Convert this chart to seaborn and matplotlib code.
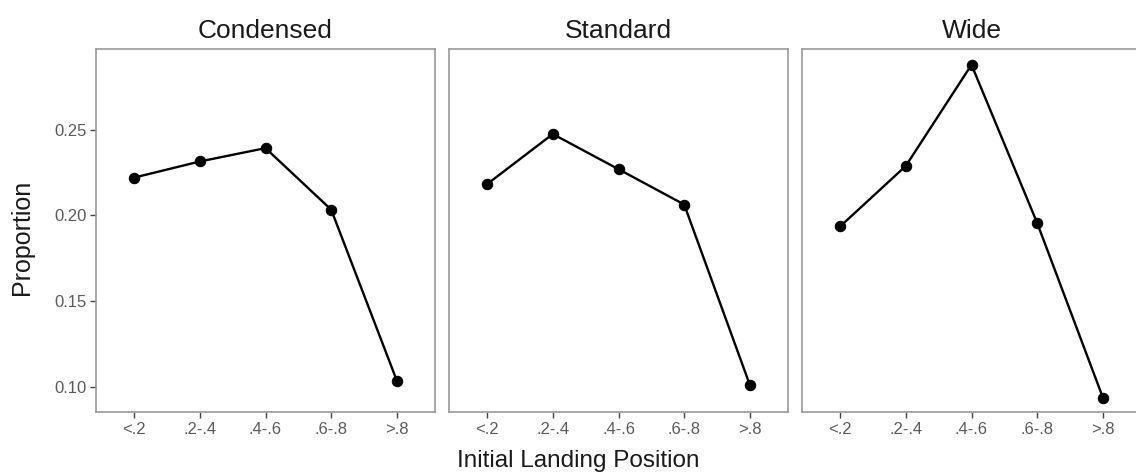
import matplotlib
matplotlib.use("Agg")
import matplotlib.pyplot as plt
import seaborn as sns
import pandas as pd
import numpy as np

panels = ["Condensed", "Standard", "Wide"]
categories = ["<.2", ".2-.4", ".4-.6", ".6-.8", ">.8"]
condensed = [0.222, 0.2314, 0.2392, 0.2033, 0.1035]
standard = [0.2182, 0.2474, 0.2269, 0.2063, 0.1010]
wide = [0.1935, 0.2288, 0.2878, 0.1955, 0.0937]
series = [condensed, standard, wide]
yticks = [0.10, 0.15, 0.20, 0.25]

sns.set_theme(style="white")
plt.rcParams["font.family"] = ["Liberation Sans", "DejaVu Sans"]

fig = plt.figure(figsize=(11.36, 4.72), dpi=100)
W, H = 1136, 472
lefts = [96, 449, 802]
pw, top, bottom = 339, 49, 412

for i, (name, vals) in enumerate(zip(panels, series)):
    ax = fig.add_axes([lefts[i] / W, (H - bottom) / H, pw / W, (bottom - top) / H])
    df = pd.DataFrame({"pos": np.arange(len(categories)), "prop": vals})
    sns.lineplot(data=df, x="pos", y="prop", ax=ax, color="black", lw=1.7,
                 marker="o", markersize=7.5, markeredgecolor="black")
    ax.set_xlim(-0.58, len(categories) - 1 + 0.58)
    ax.set_ylim(0.0853, 0.297)
    ax.set_xticks(np.arange(len(categories)))
    ax.set_xticklabels(categories)
    ax.set_yticks(yticks)
    ax.set_yticklabels([f"{t:.2f}" for t in yticks])
    if i > 0:
        ax.tick_params(axis="y", left=False, labelleft=False)
    for s in ax.spines.values():
        s.set_color("#999999")
        s.set_linewidth(1.2)
    ax.tick_params(axis="both", which="major", length=4, width=1, color="#444444",
                   labelcolor="#5a5a5a", labelsize=12, pad=3, direction="out",
                   bottom=True, left=(i == 0))
    ax.set_xlabel("")
    ax.set_ylabel("")
    ax.set_title(name, fontsize=19, color="#1a1a1a", pad=8)

fig.text(578 / W, 1 - 461 / H, "Initial Landing Position", ha="center", va="center",
         fontsize=17.5, color="#1a1a1a")
fig.text(22 / W, 1 - 237 / H, "Proportion", ha="center", va="center", rotation=90,
         fontsize=18, color="#1a1a1a")

fig.savefig("out.png", dpi=100)
